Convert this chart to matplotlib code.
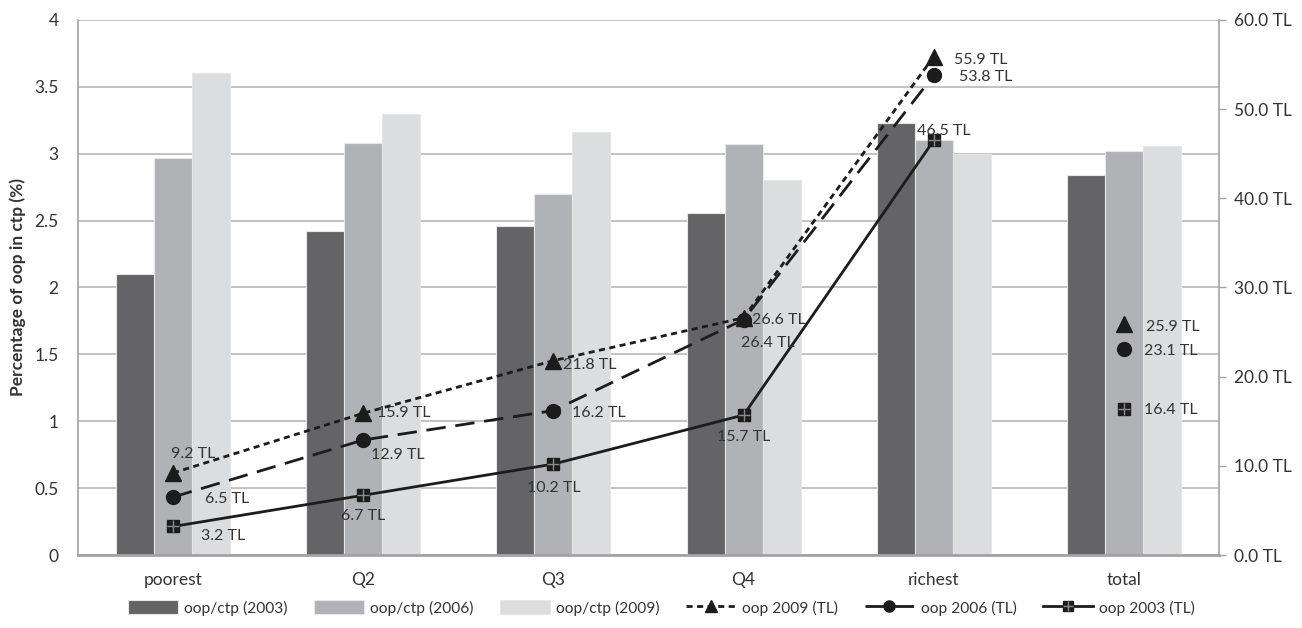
import matplotlib
matplotlib.use("Agg")
import matplotlib.pyplot as plt
from matplotlib.lines import Line2D
from matplotlib.legend_handler import HandlerTuple
import numpy as np

plt.rcParams['font.family'] = ['Lato', 'DejaVu Sans']

# ---- data ----
categories = ["poorest", "Q2", "Q3", "Q4", "richest", "total"]

share_2003 = [2.10, 2.42, 2.46, 2.56, 3.23, 2.84]
share_2006 = [2.97, 3.08, 2.70, 3.07, 3.10, 3.02]
share_2009 = [3.60, 3.30, 3.16, 2.80, 3.00, 3.06]

oop_2009 = [9.2, 15.9, 21.8, 26.6, 55.9, 25.9]
oop_2006 = [6.5, 12.9, 16.2, 26.4, 53.8, 23.1]
oop_2003 = [3.2, 6.7, 10.2, 15.7, 46.5, 16.4]

left_ticks = [0, 0.5, 1, 1.5, 2, 2.5, 3, 3.5, 4]
left_tick_labels = ["0", "0.5", "1", "1.5", "2", "2.5", "3", "3.5", "4"]
right_ticks = [0, 10, 20, 30, 40, 50, 60]
right_tick_labels = [f"{v:.1f} TL" for v in right_ticks]

# label placement for the TL values: (dx px, dy px, horizontal alignment)
off_2009 = [(-2, 19, 'left'), (14, 0, 'left'), (10, -4, 'left'),
            (8, -2, 'left'), (20, -3, 'left'), (22, -3, 'left')]
off_2006 = [(32, -2, 'left'), (8, -15, 'left'), (19, -2, 'left'),
            (-3, -23, 'left'), (25, -2, 'left'), (20, -2, 'left')]
off_2003 = [(28, -10, 'left'), (0, -21, 'center'), (0, -24, 'center'),
            (0, -22, 'center'), (-17, 9, 'left'), (20, -1, 'left')]

# ---- styling ----
c03, c06, c09 = "#646466", "#b1b2b5", "#dcdddf"
txt = "#333333"
grid_c = "#bdbdbd"
axis_c = "#a3a3a6"
line_c = "#1c1c1c"

fig = plt.figure(figsize=(13.02, 6.28), dpi=100)
ax = fig.add_axes([0.0599, 0.1162, 0.8764, 0.852])

x = np.arange(len(categories))
w = 0.2
bar_kw = dict(width=w, edgecolor="#e6e6e6", linewidth=0.8, zorder=2)
ax.bar(x - w, share_2003, color=c03, label="oop/ctp (2003)", **bar_kw)
ax.bar(x, share_2006, color=c06, label="oop/ctp (2006)", **bar_kw)
ax.bar(x + w, share_2009, color=c09, label="oop/ctp (2009)", **bar_kw)

ax.set_xlim(-0.5, len(categories) - 0.5)
ax.set_ylim(0, 4)
ax.set_yticks(left_ticks)
ax.set_yticklabels(left_tick_labels)
ax.set_xticks(x)
ax.set_xticklabels(categories)
ax.tick_params(axis='y', length=0, pad=14, labelsize=12.5, labelcolor=txt)
ax.tick_params(axis='x', length=0, pad=12, labelsize=12.5, labelcolor=txt)
ax.yaxis.grid(True, color=grid_c, linewidth=1.3, zorder=0)
ax.set_axisbelow(True)
ax.spines["top"].set_visible(False)
ax.spines["right"].set_visible(False)
ax.spines["left"].set_color(axis_c)
ax.spines["left"].set_linewidth(1.2)
ax.spines["bottom"].set_color(axis_c)
ax.spines["bottom"].set_linewidth(2.0)
ax.set_ylabel("Percentage of oop in ctp (%)", fontsize=12.5, fontweight="bold",
              color=txt, labelpad=6)

# secondary axis for TL amounts
ax2 = ax.twinx()
ax2.set_ylim(0, 60)
ax2.set_yticks(right_ticks)
ax2.set_yticklabels(right_tick_labels)
ax2.tick_params(axis='y', length=5, width=1, color=axis_c, pad=6,
                labelsize=12.5, labelcolor=txt)
for s in ["top", "left", "bottom"]:
    ax2.spines[s].set_visible(False)
ax2.spines["right"].set_color(axis_c)
ax2.spines["right"].set_linewidth(1.2)

n_line = 5  # quintiles are connected, the total stands alone
lw = 2.0

ax2.plot(x[:n_line], oop_2009[:n_line], color=line_c, lw=lw,
         dashes=(2.2, 1.6), zorder=3)
ax2.plot(x, oop_2009, ls='none', marker='^', ms=11, color=line_c, zorder=4)
ax2.plot(x[:n_line], oop_2006[:n_line], color=line_c, lw=lw,
         dashes=(7, 3.5), zorder=3)
ax2.plot(x, oop_2006, ls='none', marker='o', ms=10, color=line_c, zorder=4)
ax2.plot(x[:n_line], oop_2003[:n_line], color=line_c, lw=lw, zorder=3)
ax2.plot(x, oop_2003, ls='none', marker='s', ms=9, color=line_c, zorder=4)
ax2.plot(x, oop_2003, ls='none', marker='+', ms=9, mew=1.0,
         color="#8a8a8a", zorder=5)

for vals, offs in ((oop_2009, off_2009), (oop_2006, off_2006), (oop_2003, off_2003)):
    for xi, v, (dx, dy, ha) in zip(x, vals, offs):
        ax2.annotate(f"{v:.1f} TL", (xi, v), xytext=(dx, dy),
                     textcoords='offset pixels', ha=ha, va='center',
                     fontsize=11.5, color=txt, zorder=6)

# legend handles
bh, bl = ax.get_legend_handles_labels()
h09 = (Line2D([], [], color=line_c, lw=lw, dashes=(2.2, 1.6)),
       Line2D([], [], ls='none', marker='^', ms=8, color=line_c))
h06 = (Line2D([], [], color=line_c, lw=lw, dashes=(7, 3.5)),
       Line2D([], [], ls='none', marker='o', ms=8, color=line_c))
h03 = (Line2D([], [], color=line_c, lw=lw),
       Line2D([], [], ls='none', marker='s', ms=7, color=line_c),
       Line2D([], [], ls='none', marker='+', ms=7, mew=1.0, color="#8a8a8a"))
handles = bh + [h09, h06, h03]
labels = bl + ["oop 2009 (TL)", "oop 2006 (TL)", "oop 2003 (TL)"]
fig.legend(handles, labels, loc='center', bbox_to_anchor=(0.508, 0.032),
           ncol=6, frameon=False, fontsize=11.2, handlelength=3.2,
           handleheight=1.0, columnspacing=1.7, handletextpad=0.4,
           labelcolor=txt, handler_map={tuple: HandlerTuple(ndivide=1)})

fig.savefig("out.png", dpi=100, facecolor="white")
